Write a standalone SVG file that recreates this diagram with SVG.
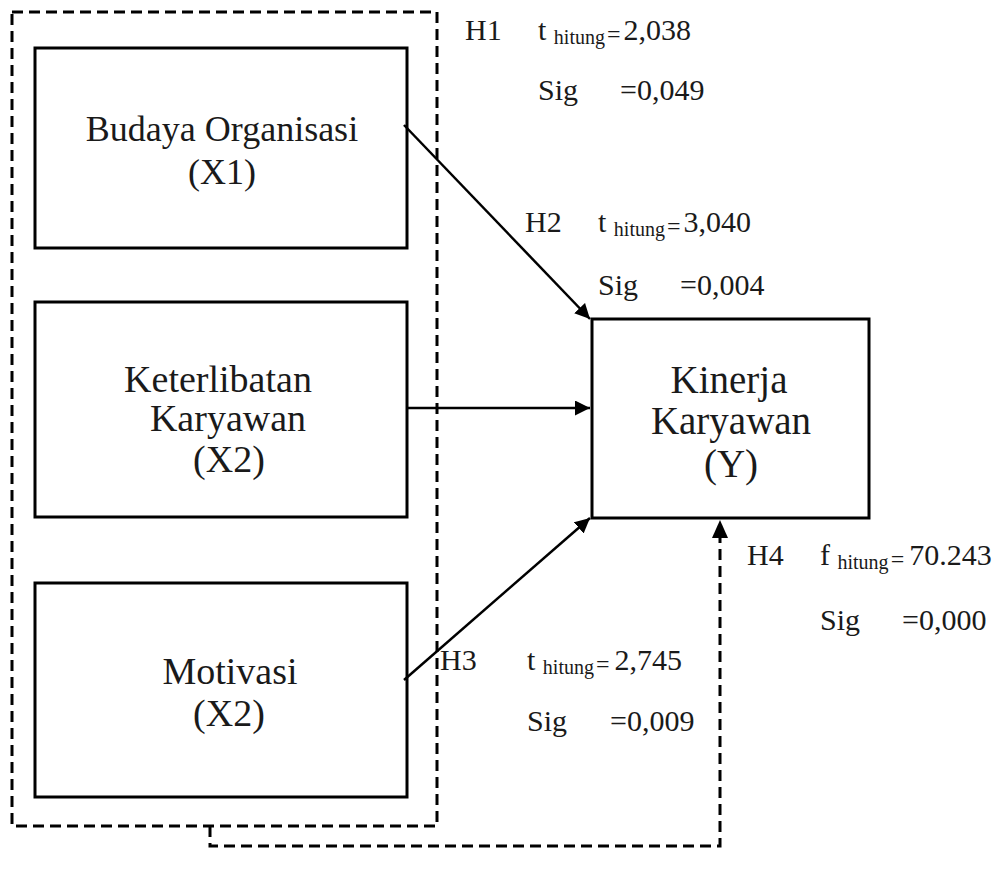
<svg xmlns="http://www.w3.org/2000/svg" width="1001" height="876" viewBox="0 0 1001 876">
<style>
.box{fill:none;stroke:#000;stroke-width:3}
.dash{fill:none;stroke:#000;stroke-width:3;stroke-dasharray:11 6}
.arr{fill:none;stroke:#000;stroke-width:2.5}
text{font-family:"Liberation Serif","Times New Roman",serif;fill:#1a1a1a}
.t{font-size:30px}
.n{font-size:38px;text-anchor:middle}
.n1{font-size:36px}
.ny{font-size:39px}
.s{font-size:20px}
.e{font-size:24px}
</style>
<defs>
<marker id="ah" viewBox="0 0 10 10" refX="10" refY="5" markerWidth="6" markerHeight="6" markerUnits="strokeWidth" orient="auto">
<path d="M0,0 L10,5 L0,10 Z" fill="#000"/>
</marker>
</defs>
<rect width="1001" height="876" fill="#fff"/>
<g id="group-x">
<rect class="dash" x="12" y="12" width="425" height="814"/>
</g>
<g id="x1">
<rect class="box" x="35" y="48" width="372" height="200"/>
<text class="n n1" x="222" y="141">Budaya Organisasi</text>
<text class="n n1" x="222" y="184">(X1)</text>
</g>
<g id="x2">
<rect class="box" x="35" y="302" width="372" height="215"/>
<text class="n" x="218" y="392">Keterlibatan</text>
<text class="n" x="228" y="431">Karyawan</text>
<text class="n" x="229" y="472">(X2)</text>
</g>
<g id="x3">
<rect class="box" x="35" y="583" width="372" height="214"/>
<text class="n" x="230" y="684">Motivasi</text>
<text class="n" x="229" y="726">(X2)</text>
</g>
<g id="y">
<rect class="box" x="592" y="319" width="277" height="199"/>
<text class="n ny" x="729" y="393">Kinerja</text>
<text class="n ny" x="731" y="434">Karyawan</text>
<text class="n ny" x="731" y="477">(Y)</text>
</g>
<g id="connectors">
<line class="arr" x1="404" y1="125" x2="590" y2="319" marker-end="url(#ah)"/>
<line class="arr" x1="408" y1="408" x2="590" y2="408" marker-end="url(#ah)"/>
<line class="arr" x1="404" y1="680" x2="590" y2="518" marker-end="url(#ah)"/>
<polyline class="dash" points="210,826 210,846 720,846 720,536"/>
<path d="M712,538 L720,520 L728,538 Z" fill="#000"/>
</g>
<g id="labels">
<text class="t" x="465" y="40">H1</text>
<text class="t" x="538" y="40">t <tspan class="s" dy="4">hitung</tspan><tspan class="e" dx="2" dy="-2">=</tspan><tspan dx="3" dy="-2">2,038</tspan></text>
<text class="t" x="538" y="100">Sig</text>
<text class="t" x="620" y="100">=0,049</text>

<text class="t" x="525" y="232">H2</text>
<text class="t" x="598" y="232">t <tspan class="s" dy="4">hitung</tspan><tspan class="e" dx="2" dy="-2">=</tspan><tspan dx="3" dy="-2">3,040</tspan></text>
<text class="t" x="598" y="295">Sig</text>
<text class="t" x="680" y="295">=0,004</text>

<text class="t" x="440" y="670">H3</text>
<text class="t" x="527" y="670">t <tspan class="s" dy="4">hitung</tspan><tspan class="e" dx="2" dy="-2">=</tspan><tspan dx="5" dy="-2">2,745</tspan></text>
<text class="t" x="527" y="731">Sig</text>
<text class="t" x="610" y="731">=0,009</text>

<text class="t" x="747" y="565">H4</text>
<text class="t" x="820" y="565">f <tspan class="s" dy="4">hitung</tspan><tspan class="e" dx="2" dy="-2">=</tspan><tspan dx="5" dy="-2">70.243</tspan></text>
<text class="t" x="820" y="630">Sig</text>
<text class="t" x="902" y="630">=0,000</text>
</g>
</svg>
